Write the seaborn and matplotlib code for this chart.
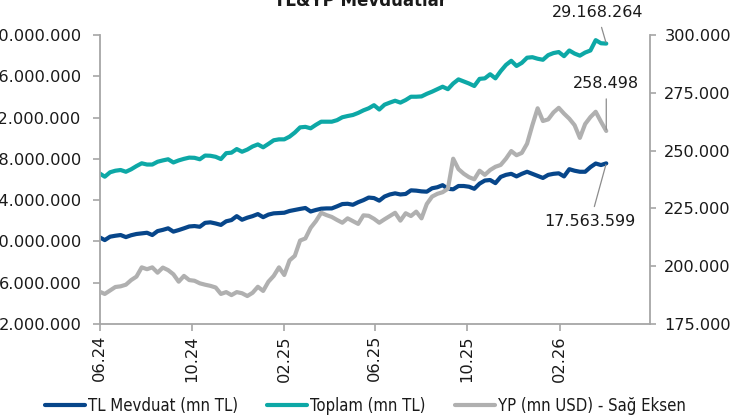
import numpy as np
import pandas as pd
import matplotlib
matplotlib.use("Agg")
import matplotlib.pyplot as plt
import matplotlib.dates as mdates
from matplotlib import font_manager
from matplotlib.font_manager import FontProperties
from matplotlib.ticker import FuncFormatter, FixedLocator
import seaborn as sns

# ---------------- data ----------------
title = "TL&YP Mevduatlar"
series_names = ["TL Mevduat (mn TL)", "Toplam (mn TL)", "YP (mn USD) - Sağ Eksen"]
start_date = "2024-06-01"          # weekly observations

# TL deposits, in millions of "mn TL" (x 1.000.000)
tl_mevduat = [
    10.40, 10.13, 10.46, 10.55, 10.62, 10.42, 10.60, 10.72, 10.78, 10.84,
    10.62, 11.00, 11.12, 11.27, 10.95, 11.10, 11.27, 11.45, 11.49, 11.42,
    11.80, 11.85, 11.74, 11.60, 11.95, 12.07, 12.45, 12.10, 12.30, 12.45,
    12.65, 12.35, 12.60, 12.72, 12.75, 12.78, 12.95, 13.05, 13.15, 13.24,
    12.90, 13.05, 13.17, 13.20, 13.20, 13.40, 13.62, 13.65, 13.55, 13.80,
    14.00, 14.25, 14.20, 13.95, 14.35, 14.55, 14.66, 14.55, 14.60, 14.95,
    14.92, 14.85, 14.82, 15.15, 15.25, 15.45, 15.10, 15.05, 15.37, 15.37,
    15.30, 15.10, 15.60, 15.90, 15.95, 15.65, 16.25, 16.45, 16.55, 16.30,
    16.55, 16.75, 16.55, 16.35, 16.15, 16.45, 16.55, 16.60, 16.30, 17.00,
    16.85, 16.75, 16.75, 17.20, 17.55, 17.40, 17.563599,
]
# Total deposits, in millions of "mn TL"
toplam = [
    16.60, 16.27, 16.70, 16.85, 16.92, 16.75, 16.99, 17.30, 17.57, 17.45,
    17.45, 17.72, 17.85, 17.96, 17.65, 17.85, 18.00, 18.12, 18.10, 17.96,
    18.32, 18.30, 18.20, 17.98, 18.55, 18.60, 18.95, 18.69, 18.90, 19.20,
    19.40, 19.12, 19.45, 19.80, 19.89, 19.89, 20.15, 20.55, 21.05, 21.10,
    20.96, 21.30, 21.60, 21.60, 21.60, 21.75, 22.03, 22.15, 22.25, 22.45,
    22.70, 22.90, 23.20, 22.78, 23.25, 23.45, 23.63, 23.45, 23.70, 24.02,
    24.02, 24.05, 24.30, 24.51, 24.75, 24.99, 24.75, 25.30, 25.70, 25.50,
    25.30, 25.06, 25.75, 25.80, 26.20, 25.80, 26.50, 27.10, 27.50, 27.00,
    27.30, 27.80, 27.85, 27.70, 27.60, 28.05, 28.25, 28.35, 27.95, 28.50,
    28.20, 28.00, 28.30, 28.50, 29.50, 29.20, 29.168264,
]
# FX deposits, in thousands of "mn USD" (x 1.000)
yp_usd = [
    189.0, 188.0, 189.5, 191.0, 191.3, 192.0, 194.0, 195.5, 199.5, 198.7,
    199.5, 197.2, 199.4, 198.3, 196.5, 193.3, 195.8, 194.0, 193.7, 192.6,
    192.0, 191.5, 190.8, 188.0, 188.8, 187.5, 188.8, 188.3, 187.1, 188.5,
    191.1, 189.3, 193.3, 195.8, 199.5, 196.2, 202.5, 204.5, 211.1, 212.0,
    216.6, 219.5, 223.1, 222.1, 221.3, 220.0, 218.8, 220.7, 219.5, 218.3,
    222.0, 221.8, 220.5, 218.8, 220.3, 221.7, 223.1, 219.7, 222.9, 221.7,
    223.6, 220.7, 226.9, 230.1, 231.3, 232.0, 233.5, 246.5, 242.0, 240.0,
    238.5, 237.6, 241.3, 239.5, 241.6, 243.0, 243.8, 246.5, 249.8, 248.0,
    249.0, 253.0, 261.0, 268.3, 262.8, 263.5, 266.5, 268.5, 266.0, 263.8,
    261.0, 255.5, 261.5, 264.5, 266.8, 262.5, 258.498,
]

left_ticks = [2_000_000, 6_000_000, 10_000_000, 14_000_000, 18_000_000,
              22_000_000, 26_000_000, 30_000_000]
right_ticks = [175_000, 200_000, 225_000, 250_000, 275_000, 300_000]
x_ticks = ["2024-06-01", "2024-10-01", "2025-02-01", "2025-06-01",
           "2025-10-01", "2026-02-01"]
x_limits = ["2024-06-01", "2026-06-01"]

# ---------------- styling ----------------
NAVY = "#07468A"
TEAL = "#0DA8A6"
GREY = "#B0B0B0"
SPINE = "#A6A6A6"
TXT = "#1A1A1A"

sns.set_theme(style="ticks")
plt.rcParams["font.family"] = ["DejaVu Sans"]
plt.rcParams["axes.linewidth"] = 1.3

# pick a narrow font for the legend if one is installed
legend_font = None
names = {f.name for f in font_manager.fontManager.ttflist}
if "Liberation Sans Narrow" in names:
    legend_font = FontProperties(family="Liberation Sans Narrow")
else:
    cond = [f for f in font_manager.fontManager.ttflist
            if f.name == "DejaVu Sans" and str(f.stretch) in ("condensed", "semi-condensed")
            and f.weight in (400, "normal") and f.style == "normal"]
    if cond:
        legend_font = FontProperties(fname=cond[0].fname)
    else:
        legend_font = FontProperties(family="Roboto")

dates = pd.date_range(start_date, periods=len(toplam), freq="7D")
df = pd.DataFrame({
    "Tarih": dates,
    "TL": np.array(tl_mevduat) * 1e6,
    "Toplam": np.array(toplam) * 1e6,
    "YP": np.array(yp_usd) * 1e3,
})

W, H = 731, 419
fig = plt.figure(figsize=(W / 100, H / 100), dpi=100)

# size the legend font so that the first entry spans ~150 px as in the reference
probe_fp = legend_font.copy()
probe_fp.set_size(12)
probe = fig.text(0, 0, series_names[0], fontproperties=probe_fp)
fig.canvas.draw()
w12 = probe.get_window_extent().width
probe.remove()
legend_size = 12 * 150.0 / max(w12, 1)
legend_fp = legend_font.copy()
legend_fp.set_size(legend_size)
lpx = legend_size * 100 / 72.0

ax = fig.add_axes([99.5 / W, 1 - 324 / H, (650 - 99.5) / W, (324 - 35) / H])
ax2 = ax.twinx()

sns.lineplot(data=df, x="Tarih", y="TL", ax=ax, color=NAVY, linewidth=3.0,
             label=series_names[0], legend=False)
sns.lineplot(data=df, x="Tarih", y="Toplam", ax=ax, color=TEAL, linewidth=3.0,
             label=series_names[1], legend=False)
sns.lineplot(data=df, x="Tarih", y="YP", ax=ax2, color=GREY, linewidth=3.0,
             label=series_names[2], legend=False)

fmt_dot = FuncFormatter(lambda v, p: f"{int(round(v)):,}".replace(",", "."))

ax.set_xlim(pd.Timestamp(x_limits[0]), pd.Timestamp(x_limits[1]))
ax.set_ylim(left_ticks[0], left_ticks[-1])
ax2.set_ylim(right_ticks[0], right_ticks[-1])
ax.yaxis.set_major_locator(FixedLocator(left_ticks))
ax2.yaxis.set_major_locator(FixedLocator(right_ticks))
ax.yaxis.set_major_formatter(fmt_dot)
ax2.yaxis.set_major_formatter(fmt_dot)
ax.xaxis.set_major_locator(FixedLocator(mdates.date2num(pd.to_datetime(x_ticks))))
ax.xaxis.set_major_formatter(mdates.DateFormatter("%m.%y"))

for a in (ax, ax2):
    a.set_xlabel("")
    a.set_ylabel("")
    a.grid(False)
    for s in a.spines.values():
        s.set_color(SPINE)
        s.set_linewidth(1.3)
    a.spines["top"].set_visible(False)
ax.spines["right"].set_visible(False)
ax2.spines["left"].set_visible(False)
ax2.spines["bottom"].set_visible(False)

ax.tick_params(axis="y", length=5, width=1.2, color=SPINE, pad=8,
               labelsize=11.7, labelcolor=TXT)
ax.tick_params(axis="x", length=5, width=1.2, color=SPINE, pad=3,
               labelsize=11.7, labelcolor=TXT, labelrotation=90)
ax2.tick_params(axis="y", length=4, width=1.2, color=SPINE, pad=6.3,
                labelsize=11.6, labelcolor=TXT)

# end-of-series annotations
ann = dict(textcoords="offset pixels", ha="center", va="center",
           fontsize=11.5, color=TXT,
           arrowprops=dict(arrowstyle="-", color="#8C8C8C", lw=0.9,
                           shrinkA=3, shrinkB=1))
ax.annotate(fmt_dot(df["Toplam"].iloc[-1], None),
            xy=(df["Tarih"].iloc[-1], df["Toplam"].iloc[-1]),
            xytext=(-9, 31), **ann)
ax2.annotate(fmt_dot(df["YP"].iloc[-1], None),
             xy=(df["Tarih"].iloc[-1], df["YP"].iloc[-1]),
             xytext=(0, 47), **ann)
ax.annotate(fmt_dot(df["TL"].iloc[-1], None),
            xy=(df["Tarih"].iloc[-1], df["TL"].iloc[-1]),
            xytext=(-16, -58), **ann)

# title (partly outside the canvas, as in the reference)
fig.text(361 / W, 1 - 6 / H, title, ha="center", va="baseline",
         fontsize=12, fontweight="bold", color=TXT)

# legend
handles = ax.get_lines()[:2] + ax2.get_lines()[:1]
fig.legend(handles, series_names, loc="center", bbox_to_anchor=(0.5, 1 - 406 / H),
           ncol=3, frameon=False, handlelength=40 / lpx, handletextpad=3 / lpx,
           columnspacing=29 / lpx, borderaxespad=0, prop=legend_fp,
           labelcolor=TXT)

fig.savefig("out.png", dpi=100)
